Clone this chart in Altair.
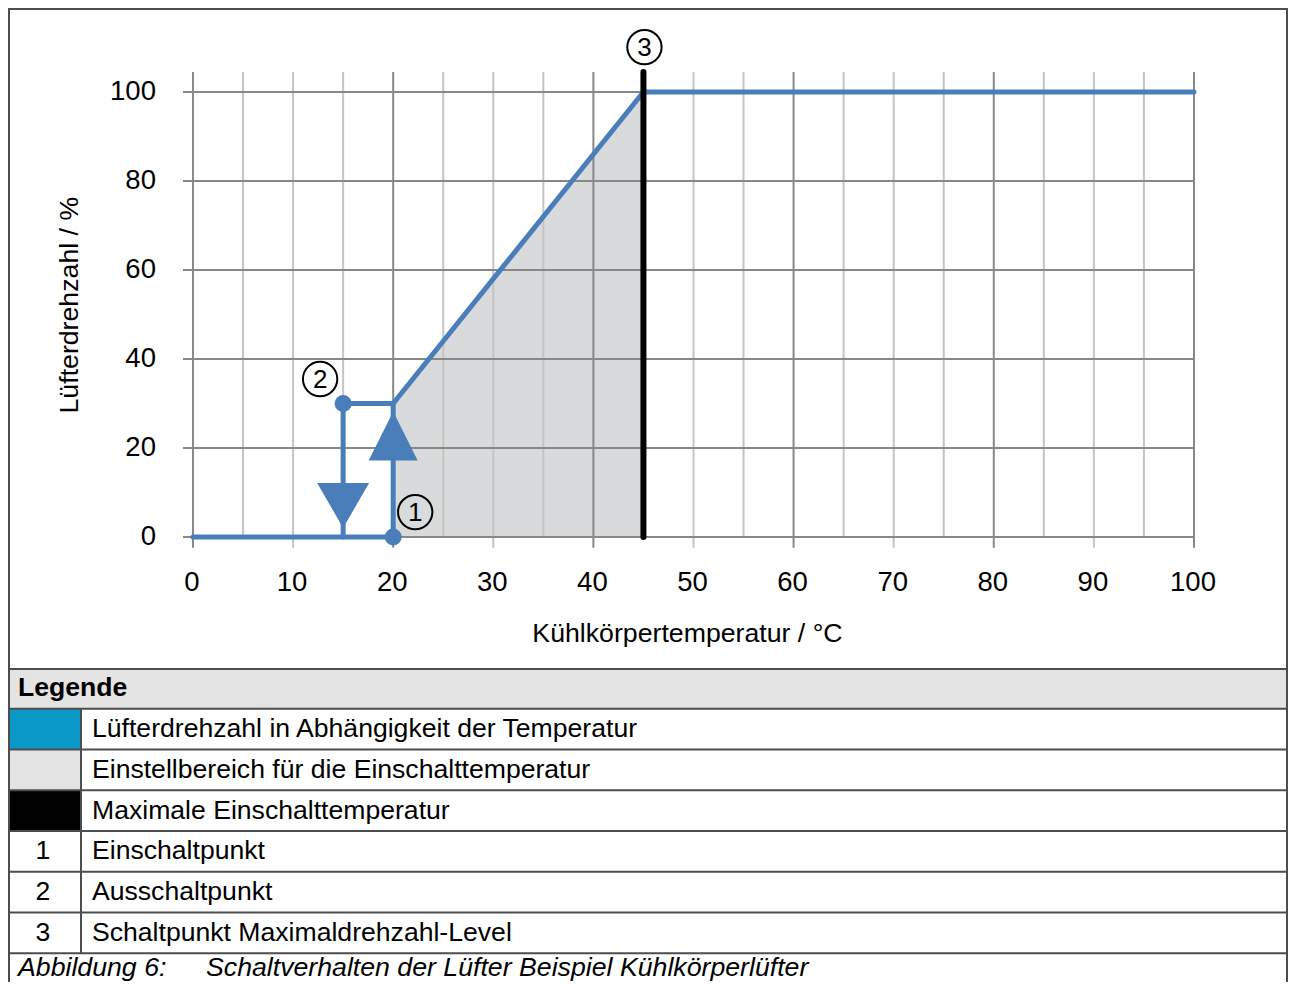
import altair as alt
import pandas as pd

FONT = "Liberation Sans"
BLUE = "#4a7ebb"
FRAME = "#4d4d4d"

# ---------------- data ----------------
x_ticks = [0, 10, 20, 30, 40, 50, 60, 70, 80, 90, 100]
y_ticks = [0, 20, 40, 60, 80, 100]
x_grid = [0, 5, 10, 15, 20, 25, 30, 35, 40, 45, 50, 55, 60, 65, 70, 75, 80, 85, 90, 95, 100]

# blue characteristic (segments)
seg_id = [1, 1, 2, 2, 3, 3, 4, 4, 5, 5, 5]
seg_x = [0, 20, 20, 20, 15, 20, 15, 15, 20, 45, 100]
seg_y = [0, 0, 0, 30, 30, 30, 30, 0, 30, 100, 100]

# shaded setting range
area_x = [20, 45]
area_y = [30, 100]

# switching points
dot_x = [20, 15]
dot_y = [0, 30]

# direction arrows
arrow_x = [20, 15]
arrow_y = [22.7, 7.1]
arrow_dir = ["up", "down"]

# max switch temperature
max_temp = 45

# circled markers
marker_num = ["1", "2", "3"]
marker_x = [22.2, 12.7, 45.1]
marker_y = [5.6, 35.5, 110.1]

x_title = "Kühlkörpertemperatur / °C"
y_title = "Lüfterdrehzahl / %"

# legend table
legend_header = "Legende"
legend_keys = ["", "", "", "1", "2", "3"]
legend_swatch = ["#0a98c8", "#e4e4e4", "#000000", "", "", ""]
legend_labels = [
    "Lüfterdrehzahl in Abhängigkeit der Temperatur",
    "Einstellbereich für die Einschalttemperatur",
    "Maximale Einschalttemperatur",
    "Einschaltpunkt",
    "Ausschaltpunkt",
    "Schaltpunkt Maximaldrehzahl-Level",
]
caption_num = "Abbildung 6:"
caption_text = "Schaltverhalten der Lüfter Beispiel Kühlkörperlüfter"

# ---------------- layout (styles) ----------------
W = 1280
H_TOP = 660
H_TAB = 314
SX = 10.01          # px per °C
SY = 4.45           # px per %
X0 = -18.48
X_DOM = [X0, X0 + W / SX]
Y1 = 118.88
Y_DOM = [Y1 - H_TOP / SY, Y1]
GRID_TOP = 104.5
TICK_BOT = -2.4
FS_TICK = 27.5
FS_TITLE = 26.7
FS_TAB = 26.6


def X(f):
    return alt.X(f, type="quantitative", scale=alt.Scale(domain=X_DOM, nice=False, zero=False), axis=None)


def Y(f):
    return alt.Y(f, type="quantitative", scale=alt.Scale(domain=Y_DOM, nice=False, zero=False), axis=None)


# frame (top part) drawn as thin rects: left, right, top
frame_df = pd.DataFrame({
    "x0": [X_DOM[0], X_DOM[1] - 2 / SX, X_DOM[0]],
    "x1": [X_DOM[0] + 2 / SX, X_DOM[1], X_DOM[1]],
    "y0": [Y_DOM[0], Y_DOM[0], Y1 - 2 / SY],
    "y1": [Y1, Y1, Y1],
})
frame = alt.Chart(frame_df).mark_rect(color=FRAME).encode(x=X("x0"), x2="x1", y=Y("y0"), y2="y1")

# grid
grid_df = pd.DataFrame({
    "x": x_grid,
    "top": [GRID_TOP] * len(x_grid),
    "bot": [TICK_BOT if v % 10 == 0 else 0 for v in x_grid],
    "major": [v % 20 == 0 for v in x_grid],
})
vgrid_minor = alt.Chart(grid_df).transform_filter("!datum.major").mark_rule(
    color="#c4c4c4", strokeWidth=2).encode(x=X("x"), y=Y("bot"), y2="top")
vgrid_major = alt.Chart(grid_df).transform_filter("datum.major").mark_rule(
    color="#888888", strokeWidth=2).encode(x=X("x"), y=Y("bot"), y2="top")
hgrid = alt.Chart(pd.DataFrame({"y": y_ticks, "x0": [-1.0] * len(y_ticks), "x1": [100] * len(y_ticks)})).mark_rule(
    color="#888888", strokeWidth=2).encode(y=Y("y"), x=X("x0"), x2="x1")

area = alt.Chart(pd.DataFrame({"x": area_x, "y": area_y, "y0": [0, 0]})).mark_area(
    color="#d9dadb", opacity=1).encode(x=X("x"), y=Y("y"), y2="y0")

line = alt.Chart(pd.DataFrame({"seg": seg_id, "x": seg_x, "y": seg_y, "o": list(range(len(seg_x)))})).mark_line(
    color=BLUE, strokeWidth=5, strokeCap="round", strokeJoin="round").encode(
    x=X("x"), y=Y("y"), detail="seg:N", order="o:Q")

black = alt.Chart(pd.DataFrame({"x": [max_temp], "y0": [0], "y1": [GRID_TOP]})).mark_rule(
    color="black", strokeWidth=6, strokeCap="round").encode(x=X("x"), y=Y("y0"), y2="y1")

arr_df = pd.DataFrame({"x": arrow_x, "y": arrow_y, "d": arrow_dir})
arrow_up = alt.Chart(arr_df).transform_filter("datum.d == 'up'").mark_point(
    shape="M0,-1L1,1L-1,1Z", size=2400, filled=True, color=BLUE, opacity=1).encode(x=X("x"), y=Y("y"))
arrow_down = alt.Chart(arr_df).transform_filter("datum.d == 'down'").mark_point(
    shape="triangle-down", size=2700, filled=True, color=BLUE, opacity=1).encode(x=X("x"), y=Y("y"))

dots = alt.Chart(pd.DataFrame({"x": dot_x, "y": dot_y})).mark_point(
    shape="circle", size=290, filled=True, color=BLUE, opacity=1).encode(x=X("x"), y=Y("y"))

mk_df = pd.DataFrame({"n": marker_num, "x": marker_x, "y": marker_y})
mk_circ = alt.Chart(mk_df).mark_point(
    shape="circle", size=1180, filled=False, color="black", strokeWidth=2, opacity=1).encode(x=X("x"), y=Y("y"))
mk_txt = alt.Chart(mk_df).mark_text(
    font=FONT, fontSize=26, color="black", align="center", baseline="middle", dy=1).encode(
    x=X("x"), y=Y("y"), text="n:N")

xl = alt.Chart(pd.DataFrame({"v": x_ticks, "y": [-10.3] * len(x_ticks)})).mark_text(
    font=FONT, fontSize=FS_TICK, color="black", align="center", baseline="middle", dx=-1).encode(
    x=X("v"), y=Y("y"), text=alt.Text("v:Q"))
yl = alt.Chart(pd.DataFrame({"v": y_ticks, "x": [-3.7] * len(y_ticks)})).mark_text(
    font=FONT, fontSize=FS_TICK, color="black", align="right", baseline="middle").encode(
    x=X("x"), y=Y("v"), text=alt.Text("v:Q"))

xt = alt.Chart(pd.DataFrame({"t": [x_title], "x": [49.4], "y": [-21.8]})).mark_text(
    font=FONT, fontSize=FS_TITLE, color="black", align="center", baseline="middle").encode(
    x=X("x"), y=Y("y"), text="t:N")
yt = alt.Chart(pd.DataFrame({"t": [y_title], "x": [-12.3], "y": [52.1]})).mark_text(
    font=FONT, fontSize=FS_TITLE, color="black", align="center", baseline="middle", angle=270).encode(
    x=X("x"), y=Y("y"), text="t:N")

top = alt.layer(
    area, vgrid_minor, vgrid_major, hgrid, line, black, arrow_up, arrow_down, dots,
    mk_circ, mk_txt, xl, yl, xt, yt, frame
).properties(width=W, height=H_TOP)

# ---------------- legend table ----------------
ROW = 40.75
T_DOM = [0, H_TAB / ROW]
TX = alt.Scale(domain=[0, W], nice=False, zero=False)
TY = alt.Scale(domain=T_DOM, nice=False, zero=False, reverse=True)
COL = 73
LW = 2 / ROW  # line thickness in row units


def TXe(f):
    return alt.X(f, type="quantitative", scale=TX, axis=None)


def TYe(f):
    return alt.Y(f, type="quantitative", scale=TY, axis=None)


n = len(legend_labels)
rows = pd.DataFrame({
    "row": [i + 1 for i in range(n)],
    "row2": [i + 2 for i in range(n)],
    "mid": [i + 1.5 for i in range(n)],
    "key": legend_keys,
    "sw": legend_swatch,
    "label": legend_labels,
    "x0": [0] * n,
    "x1": [COL] * n,
    "xk": [35] * n,
    "xt": [84] * n,
})

hdr = alt.Chart(pd.DataFrame({"x0": [0], "x1": [W], "y0": [0], "y1": [1]})).mark_rect(
    color="#e4e4e4").encode(x=TXe("x0"), x2="x1", y=TYe("y0"), y2="y1")
sw = alt.Chart(rows).transform_filter("datum.sw != ''").mark_rect().encode(
    x=TXe("x0"), x2="x1", y=TYe("row"), y2="row2", color=alt.Color("sw:N", scale=None))

# table lines as thin rects
line_rows = [0, 1, 2, 3, 4, 5, 6, 7]
tl = pd.DataFrame({
    "x0": [0] * len(line_rows) + [COL - 1, 0, W - 2],
    "x1": [W] * len(line_rows) + [COL + 1, 2, W],
    "y0": [max(0, r - LW / 2) for r in line_rows] + [1, 0, 0],
    "y1": [max(0, r - LW / 2) + LW for r in line_rows] + [7, T_DOM[1], T_DOM[1]],
})
tlines = alt.Chart(tl).mark_rect(color=FRAME).encode(x=TXe("x0"), x2="x1", y=TYe("y0"), y2="y1")

hdr_t = alt.Chart(pd.DataFrame({"t": [legend_header], "x": [10], "y": [0.5]})).mark_text(
    font=FONT, fontSize=FS_TAB, fontWeight="bold", color="black", align="left", baseline="middle").encode(
    x=TXe("x"), y=TYe("y"), text="t:N")
key_t = alt.Chart(rows).mark_text(
    font=FONT, fontSize=FS_TAB, color="black", align="center", baseline="middle").encode(
    x=TXe("xk"), y=TYe("mid"), text="key:N")
lab_t = alt.Chart(rows).mark_text(
    font=FONT, fontSize=FS_TAB, color="black", align="left", baseline="middle").encode(
    x=TXe("xt"), y=TYe("mid"), text="label:N")
cap = alt.Chart(pd.DataFrame({"t": [caption_num, caption_text], "x": [10, 198], "y": [7.35, 7.35]})).mark_text(
    font=FONT, fontSize=FS_TITLE, fontStyle="italic", color="black", align="left", baseline="middle").encode(
    x=TXe("x"), y=TYe("y"), text="t:N")

table = alt.layer(hdr, sw, hdr_t, key_t, lab_t, cap, tlines).properties(width=W, height=H_TAB)

chart = alt.vconcat(top, table, spacing=0).properties(padding=0).configure_view(stroke=None)

chart.save("out.html", embed_options={"renderer": "svg", "actions": False})
